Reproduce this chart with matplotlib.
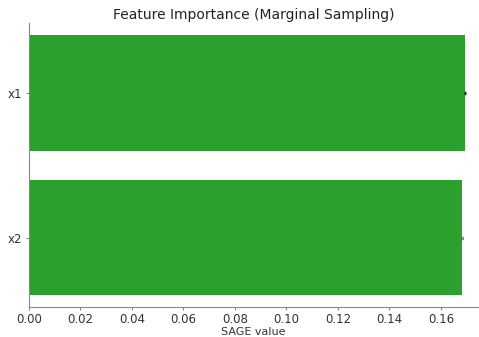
import matplotlib
matplotlib.use("Agg")
import matplotlib.pyplot as plt
import numpy as np

# SAGE values per feature
features = ["x1", "x2"]
values = [0.1692, 0.1683]
stds = [0.0004, 0.0003]

fig = plt.figure(figsize=(4.79, 3.37), dpi=100)
ax = fig.add_axes([0.06, 0.089, 0.938, 0.843])

pos = np.arange(len(features))
ax.barh(pos, values, height=0.8, color="tab:green", xerr=stds,
        error_kw=dict(ecolor="#222222", capsize=0, elinewidth=2.5))
ax.set_yticks(pos)
ax.set_yticklabels(features)
ax.set_ylim(1.48, -0.484)
ax.set_xlim(0, 0.1744)
ax.set_xticks(np.arange(0, 0.17, 0.02))
ax.tick_params(labelsize=8.5, length=2.5, pad=2, color="#888888", labelcolor="#333333")
ax.set_xlabel("SAGE value", fontsize=8, color="#333333", labelpad=0.5)
ax.set_title("Feature Importance (Marginal Sampling)", fontsize=10, color="#222222", pad=3)

for side in ["top", "right"]:
    ax.spines[side].set_visible(False)
for side in ["left", "bottom"]:
    ax.spines[side].set_color("#888888")

fig.savefig("out.png", dpi=100)
